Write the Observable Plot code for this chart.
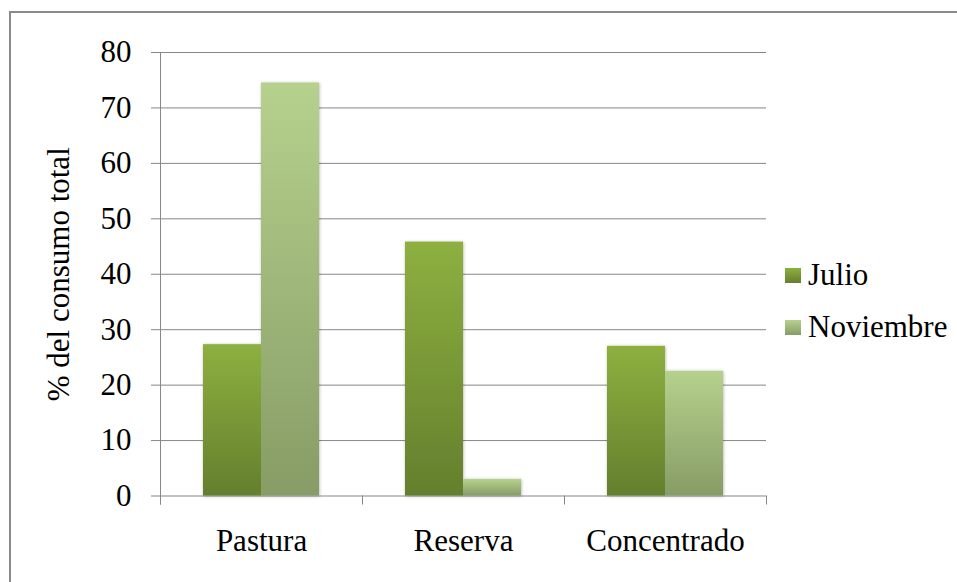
<!DOCTYPE html>
<html>
<head>
<meta charset="utf-8">
<script src="https://cdn.jsdelivr.net/npm/d3@7"></script>
<script src="https://cdn.jsdelivr.net/npm/@observablehq/plot@0.6"></script>
<style>
  html, body { margin: 0; padding: 0; background: #fff; width: 957px; height: 582px; overflow: hidden; }
  #marco { position: absolute; left: 9px; top: 11px; width: 1000px; height: 700px; border: 2px solid #8a8a8a; box-sizing: border-box; }
  #grafico { position: absolute; left: 0; top: 0; }
  #leyenda { position: absolute; left: 785px; top: 249px; font-family: "Liberation Serif", "Times New Roman", "DejaVu Serif", serif; font-size: 31px; color: #000; }
  #leyenda .item { display: flex; align-items: center; height: 52px; white-space: nowrap; }
  #leyenda .item svg { margin-right: 7px; flex-shrink: 0; }
  #grafico svg text { font-family: "Liberation Serif", "Times New Roman", "DejaVu Serif", serif; }
</style>
</head>
<body>
<div id="marco"></div>
<div id="grafico"></div>
<div id="leyenda"></div>
<script>
// Consumo por origen del alimento, julio vs noviembre
const categorias = ["Pastura", "Reserva", "Concentrado"];
const meses = ["Julio", "Noviembre"];
const julio = [27.3, 45.8, 27.0];
const noviembre = [74.5, 3.0, 22.5];
const ticksY = [0, 10, 20, 30, 40, 50, 60, 70, 80];

// Degradados verticales de cada serie (claro arriba, oscuro abajo)
const degradados = {
  Julio: ["#8db040", "#647f2d"],
  Noviembre: ["#b6d18d", "#879c66"]
};
const rellenos = meses.map(m => `url(#grad-${m})`);

const filas = categorias.flatMap((c, i) => [
  {categoria: c, mes: meses[0], valor: julio[i]},
  {categoria: c, mes: meses[1], valor: noviembre[i]}
]);

const gris = "#878787";
const fuente = "'Liberation Serif', 'Times New Roman', 'DejaVu Serif', serif";

const chart = Plot.plot({
  width: 957,
  height: 582,
  marginLeft: 159,
  marginRight: 191,
  marginTop: 52,
  marginBottom: 86.5,
  style: {fontFamily: fuente, fontSize: "31px", color: "#000", background: "transparent", overflow: "visible"},
  fx: {domain: categorias, padding: 0, label: null},
  x: {domain: meses, paddingInner: 0, paddingOuter: 0.737, axis: null},
  y: {domain: [0, 80], label: null},
  color: {domain: meses, range: rellenos},
  marks: [
    Plot.gridY(ticksY, {stroke: gris, strokeOpacity: 1, strokeWidth: 1}),
    Plot.barY(filas, {fx: "categoria", x: "mes", y: "valor", fill: "mes"}),
    Plot.axisY(ticksY, {
      tickSize: 9, tickPadding: 20, stroke: gris, strokeOpacity: 1,
      label: "% del consumo total", labelAnchor: "center", labelOffset: 114, labelArrow: "none"
    }),
    Plot.axisFx({anchor: "bottom", tickSize: 0, tickPadding: 33, label: null})
  ]
});

document.getElementById("grafico").append(chart);

const svg = d3.select(chart);
const defs = svg.insert("defs", ":first-child");
for (const m of meses) {
  const g = defs.append("linearGradient")
    .attr("id", `grad-${m}`)
    .attr("x1", 0).attr("y1", 0).attr("x2", 0).attr("y2", 1);
  g.append("stop").attr("offset", "0%").attr("stop-color", degradados[m][0]);
  g.append("stop").attr("offset", "100%").attr("stop-color", degradados[m][1]);
}
const sombra = defs.append("filter").attr("id", "sombra")
  .attr("x", "-20%").attr("y", "-10%").attr("width", "140%").attr("height", "120%");
sombra.append("feDropShadow")
  .attr("dx", 0.5).attr("dy", 0.5).attr("stdDeviation", 1.6)
  .attr("flood-color", "#000").attr("flood-opacity", 0.3);
svg.selectAll('g[aria-label="bar"]').attr("filter", "url(#sombra)");

// Línea del eje vertical y marcas entre categorías
const fx = chart.scale("fx");
const y = chart.scale("y");
const y0 = y.apply(0);
const bordes = categorias.map(c => fx.apply(c)).concat(fx.apply(categorias[categorias.length - 1]) + fx.bandwidth);
const ejes = svg.append("g").attr("stroke", gris).attr("stroke-width", 1);
ejes.append("line")
  .attr("x1", Math.round(bordes[0]) + 0.5).attr("x2", Math.round(bordes[0]) + 0.5)
  .attr("y1", y.apply(80)).attr("y2", y0 + 9);
ejes.selectAll(".borde").data(bordes).join("line")
  .attr("x1", d => Math.round(d) + 0.5).attr("x2", d => Math.round(d) + 0.5)
  .attr("y1", y0).attr("y2", y0 + 9);

// Leyenda a partir de la escala de color
const color = chart.scale("color");
const leyenda = d3.select("#leyenda");
color.domain.forEach((m, i) => {
  const item = leyenda.append("div").attr("class", "item");
  const s = item.append("svg").attr("width", 16).attr("height", 15);
  s.append("rect").attr("width", 16).attr("height", 15).attr("fill", color.range[i]);
  item.append("span").text(m);
});
</script>
</body>
</html>
